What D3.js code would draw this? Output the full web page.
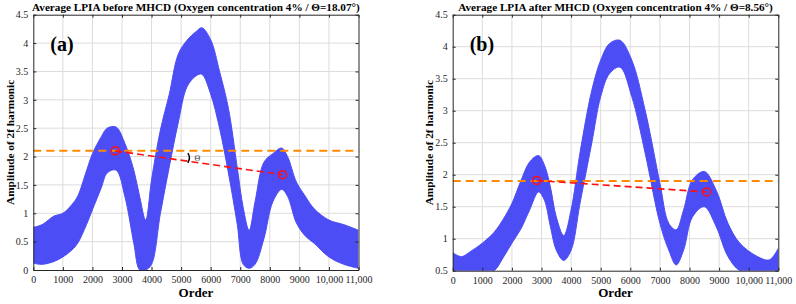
<!DOCTYPE html>
<html>
<head>
<meta charset="utf-8">
<script src="https://cdn.jsdelivr.net/npm/d3@7"></script>
<style>
  body { margin: 0; background: #fff; }
  svg text { font-family: "Liberation Serif", "Times New Roman", serif; }
</style>
</head>
<body>
<div id="chart"></div>
<script>
// x ticks shared by both panels
const xTicks = [0, 1000, 2000, 3000, 4000, 5000, 6000, 7000, 8000, 9000, 10000, 11000];
const xTickLabels = ['0', '1000', '2000', '3000', '4000', '5000', '6000', '7000', '8000', '9000', '10,000', '11,000'];
const yTicksA = [0, 0.5, 1, 1.5, 2, 2.5, 3, 3.5, 4, 4.5];
const yTicksB = [0.5, 1, 1.5, 2, 2.5, 3, 3.5, 4, 4.5];

// panel (a): envelope of the bundle of LPIA curves
const ordersA = [0, 300, 700, 1000, 1300, 1500, 1800, 2000, 2300, 2500, 2800, 3100, 3400, 3600, 3800, 4000, 4300, 4600, 4900, 5200, 5500, 5700, 6000, 6300, 6600, 6900, 7100, 7300, 7500, 7800, 8100, 8400, 8600, 8900, 9200, 9500, 10000, 10500, 11000];
const upperA = [0.75, 0.8, 0.95, 1.0, 1.15, 1.3, 1.75, 2.05, 2.35, 2.5, 2.52, 2.23, 1.76, 1.29, 0.88, 1.59, 2.47, 3.1, 3.8, 4.05, 4.2, 4.27, 4.06, 3.5, 2.85, 1.8, 1.1, 0.7, 1.2, 1.9, 2.05, 2.15, 2.0, 1.55, 1.3, 1.08, 0.88, 0.8, 0.7];
const lowerA = [0.12, 0.1, 0.15, 0.23, 0.35, 0.47, 0.8, 1.06, 1.45, 1.71, 1.76, 1.29, 0.47, 0, 0, 0.1, 1.0, 1.82, 2.59, 3.23, 3.42, 3.45, 3.1, 2.5, 1.71, 0.8, 0.1, 0.03, 0.1, 0.55, 1.2, 1.42, 1.3, 0.83, 0.6, 0.47, 0.23, 0.1, 0.03];

// panel (b)
const ordersB = [0, 300, 600, 1000, 1400, 1700, 2000, 2300, 2600, 2900, 3100, 3300, 3500, 3750, 4000, 4300, 4700, 5000, 5300, 5650, 6050, 6500, 7000, 7300, 7550, 7800, 8100, 8500, 8900, 9300, 9700, 10300, 10700, 11000];
const upperB = [0.78, 0.72, 0.8, 0.93, 1.1, 1.3, 1.55, 1.9, 2.2, 2.3, 2.15, 1.81, 1.34, 1.05, 1.45, 2.34, 3.32, 3.79, 4.05, 4.1, 3.79, 3.01, 1.87, 1.24, 1.14, 1.45, 1.92, 2.05, 1.76, 1.24, 0.93, 0.72, 0.67, 0.85];
const lowerB = [0.45, 0.45, 0.45, 0.45, 0.5, 0.7, 0.93, 1.15, 1.45, 1.73, 1.6, 1.19, 0.82, 0.66, 0.82, 1.55, 2.5, 3.22, 3.58, 3.68, 3.22, 2.34, 1.24, 0.82, 0.59, 0.82, 1.34, 1.5, 1.19, 0.72, 0.5, 0.45, 0.45, 0.45];

// reference lines and the two fitted points
const levelA = 2.1, levelB = 1.9;
const pointsA = [[2770, 2.1], [8430, 1.68]];
const pointsB = [[2840, 1.91], [8580, 1.73]];

const titles = [
  'Average LPIA before MHCD (Oxygen concentration 4% / \u0398=18.07\u00b0)',
  'Average LPIA after MHCD (Oxygen concentration 4% / \u0398=8.56\u00b0)'
];

const w = 796;
const h = 304;
const blue = '#4d4df5';
const serif = '"Liberation Serif", "Times New Roman", serif';

const svg = d3.select('#chart')
  .append('svg')
  .attr('width', w)
  .attr('height', h);

const panels = [
  {id: 'a', tag: '(a)', left: 33.3, right: 358.5, top: 14.7, bottom: 270, yDomain: [0, 4.5], yTicks: yTicksA,
   orders: ordersA, upper: upperA, lower: lowerA, level: levelA, points: pointsA, title: titles[0], ylabX: 10, theta: true},
  {id: 'b', tag: '(b)', left: 452.7, right: 778.3, top: 14.7, bottom: 270.7, yDomain: [0.5, 4.5], yTicks: yTicksB,
   orders: ordersB, upper: upperB, lower: lowerB, level: levelB, points: pointsB, title: titles[1], ylabX: 429, theta: false}
];

const drawPanel = (p) => {
  const x = d3.scaleLinear().domain([0, 11000]).range([p.left, p.right]);
  const y = d3.scaleLinear().domain(p.yDomain).range([p.bottom, p.top]);
  const g = svg.append('g');

  svg.append('clipPath')
     .attr('id', 'clip-' + p.id)
     .append('rect')
     .attr('x', p.left).attr('y', p.top)
     .attr('width', p.right - p.left).attr('height', p.bottom - p.top);

  // grid
  g.append('g').selectAll('line')
   .data(xTicks.slice(1, -1)).enter().append('line')
   .attr('x1', d => x(d)).attr('x2', d => x(d))
   .attr('y1', p.top).attr('y2', p.bottom)
   .attr('stroke', '#dcdcdc').attr('stroke-width', 1);
  g.append('g').selectAll('line')
   .data(p.yTicks.slice(1, -1)).enter().append('line')
   .attr('y1', d => y(d)).attr('y2', d => y(d))
   .attr('x1', p.left).attr('x2', p.right)
   .attr('stroke', '#dcdcdc').attr('stroke-width', 1);

  // the bundle of curves
  const rows = p.orders.map((o, i) => ({o: o, hi: p.upper[i], lo: p.lower[i]}));
  const curve = d3.curveCatmullRom.alpha(0.5);
  const plot = g.append('g').attr('clip-path', 'url(#clip-' + p.id + ')');
  plot.append('path')
      .datum(rows)
      .attr('fill', blue)
      .attr('d', d3.area().x(d => x(d.o)).y0(d => y(d.lo)).y1(d => y(d.hi)).curve(curve));
  ['hi', 'lo'].forEach(k => {
    plot.append('path')
        .datum(rows)
        .attr('fill', 'none')
        .attr('stroke', blue)
        .attr('stroke-width', 1)
        .attr('d', d3.line().x(d => x(d.o)).y(d => y(d[k])).curve(curve));
  });

  // orange reference level
  plot.append('line')
      .attr('x1', p.left).attr('x2', p.right)
      .attr('y1', y(p.level)).attr('y2', y(p.level))
      .attr('stroke', '#ff8a00').attr('stroke-width', 2)
      .attr('stroke-dasharray', '8,5');

  // red dashed link between the two peaks
  plot.append('line')
      .attr('x1', x(p.points[0][0])).attr('y1', y(p.points[0][1]))
      .attr('x2', x(p.points[1][0])).attr('y2', y(p.points[1][1]))
      .attr('stroke', '#ff1010').attr('stroke-width', 1.6)
      .attr('stroke-dasharray', '7,4');
  plot.selectAll('circle')
      .data(p.points).enter().append('circle')
      .attr('cx', d => x(d[0])).attr('cy', d => y(d[1]))
      .attr('r', 4)
      .attr('fill', 'none')
      .attr('stroke', '#ff1010').attr('stroke-width', 1.5);

  if (p.theta) {
    plot.append('path')
        .attr('d', `M${x(5230)},${y(2.06)} Q${x(5330)},${y(1.98)} ${x(5230)},${y(1.89)}`)
        .attr('fill', 'none').attr('stroke', '#000').attr('stroke-width', 1.5);
    plot.append('text')
        .attr('x', x(5450)).attr('y', y(1.93))
        .attr('font-size', 8)
        .attr('fill', '#333')
        .text('\u0398');
  }

  // axes, MATLAB style box with inward ticks
  const axisStyle = sel => {
    sel.attr('font-family', serif).attr('font-size', 10);
    sel.selectAll('path').attr('stroke', '#262626');
    sel.selectAll('line').attr('stroke', '#262626');
    sel.selectAll('text').attr('fill', '#262626')
       .style('font-size', '10px')
       .style('font-family', serif);
  };
  g.append('g')
   .attr('transform', `translate(0,${p.bottom})`)
   .call(d3.axisBottom(x).tickValues(xTicks).tickFormat((d, i) => xTickLabels[i])
         .tickSizeInner(-3).tickSizeOuter(0).tickPadding(6))
   .call(axisStyle);
  g.append('g')
   .attr('transform', `translate(0,${p.top})`)
   .call(d3.axisTop(x).tickValues(xTicks).tickFormat('').tickSizeInner(-3).tickSizeOuter(0))
   .call(axisStyle);
  g.append('g')
   .attr('transform', `translate(${p.left},0)`)
   .call(d3.axisLeft(y).tickValues(p.yTicks).tickFormat(d3.format('~g'))
         .tickSizeInner(-3).tickSizeOuter(0).tickPadding(5))
   .call(axisStyle);
  g.append('g')
   .attr('transform', `translate(${p.right},0)`)
   .call(d3.axisRight(y).tickValues(p.yTicks).tickFormat('').tickSizeInner(-3).tickSizeOuter(0))
   .call(axisStyle);

  // texts
  svg.append('text')
     .attr('x', (p.left + p.right) / 2).attr('y', 11)
     .attr('text-anchor', 'middle')
     .attr('font-size', 11.2).attr('font-weight', 'bold')
     .text(p.title);
  svg.append('text')
     .attr('x', (p.left + p.right) / 2).attr('y', 297)
     .attr('text-anchor', 'middle')
     .attr('font-size', 13).attr('font-weight', 'bold')
     .text('Order');
  svg.append('text')
     .attr('transform', `translate(${p.ylabX + 4},${(p.top + p.bottom) / 2}) rotate(-90)`)
     .attr('text-anchor', 'middle')
     .attr('font-size', 11.3).attr('font-weight', 'bold')
     .text('Amplitude of 2f harmonic');
  svg.append('text')
     .attr('x', p.left + 17).attr('y', p.top + 36)
     .attr('font-size', 20).attr('font-weight', 'bold')
     .text(p.tag);
}

panels.forEach(drawPanel);
</script>
</body>
</html>
